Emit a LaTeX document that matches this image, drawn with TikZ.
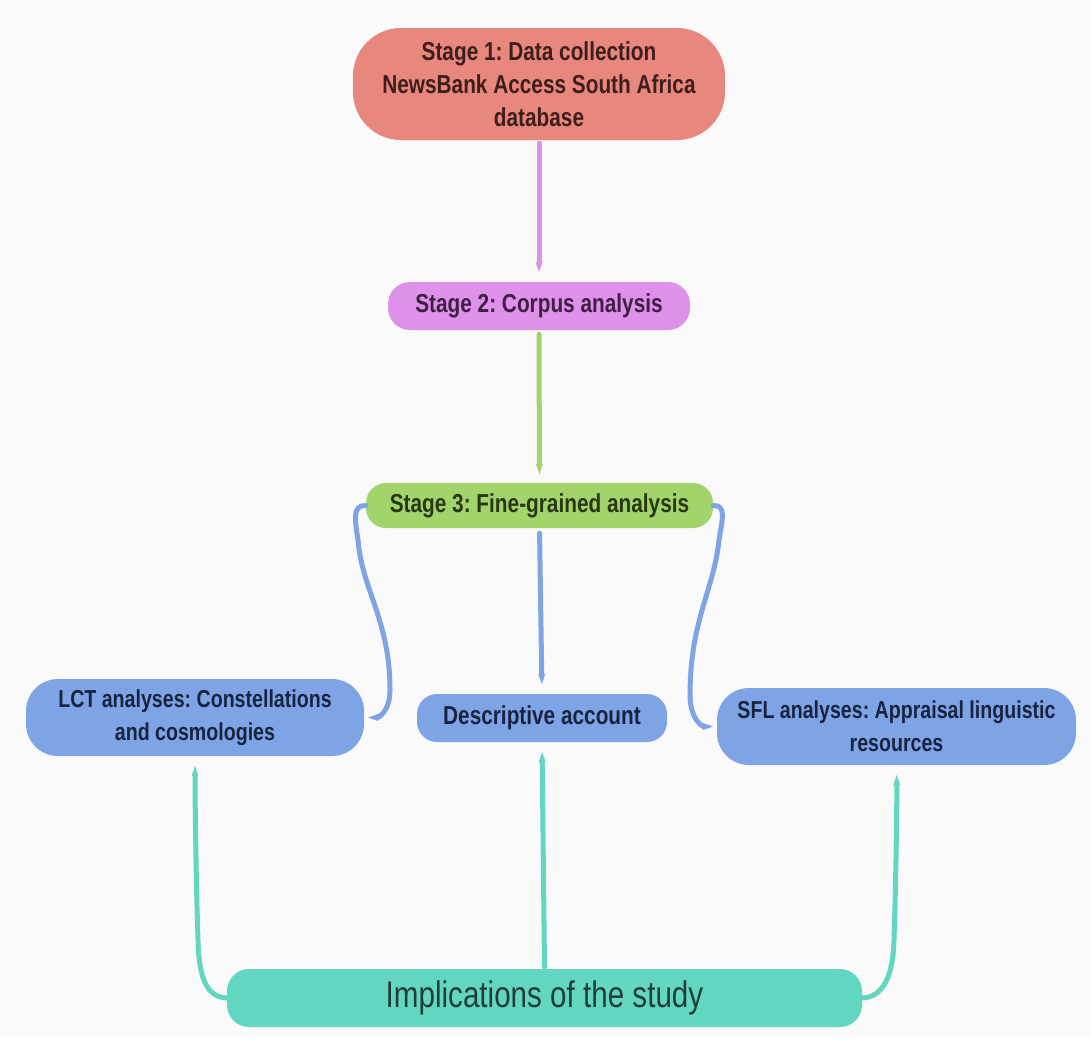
\documentclass[tikz,border=0pt]{standalone}
\usepackage{fontspec}
\setmainfont{Liberation Sans}[FakeStretch=0.8]
\usetikzlibrary{arrows.meta,calc}
\definecolor{bgc}{HTML}{FAFAFA}
\definecolor{salmon}{HTML}{E8877E}
\definecolor{salmontxt}{HTML}{3E1E1B}
\definecolor{orchidc}{HTML}{DE91E8}
\definecolor{orchidtxt}{HTML}{401E46}
\definecolor{greenc}{HTML}{A3D46C}
\definecolor{greentxt}{HTML}{283812}
\definecolor{bluec}{HTML}{7EA4E6}
\definecolor{bluetxt}{HTML}{18243F}
\definecolor{tealc}{HTML}{62D6C1}
\definecolor{tealtxt}{HTML}{1F3E3A}
\begin{document}
\frenchspacing
\begin{tikzpicture}[x=1pt,y=-1pt,
  box/.style={inner sep=0pt, align=center, font=\bfseries\fontsize{26}{33}\selectfont},
  conn/.style={line width=5pt, line cap=round, -{Triangle[width=5.5pt,length=14pt]}},
]
\fill[bgc] (0,0) rectangle (1091,1039);
\useasboundingbox (0,0) rectangle (1091,1039);

% nodes
\node[box, fill=salmon, text=salmontxt, rounded corners=48pt, minimum width=372pt, minimum height=112pt] (s1) at (539,84)
  {Stage 1: Data collection\\NewsBank Access South Africa\\database};
\node[box, fill=orchidc, text=orchidtxt, rounded corners=22pt, minimum width=302pt, minimum height=48pt] (s2) at (539,306)
  {Stage 2: Corpus analysis};
\node[box, fill=greenc, text=greentxt, rounded corners=20pt, minimum width=347pt, minimum height=45pt] (s3) at (539.5,505.5)
  {Stage 3: Fine-grained analysis};
\node[box, fill=bluec, text=bluetxt, rounded corners=32pt, minimum width=338pt, minimum height=77pt,
      font=\bfseries\fontsize{24.5}{33}\selectfont] (lct) at (195,717.5)
  {LCT analyses: Constellations\\and cosmologies};
\node[box, fill=bluec, text=bluetxt, rounded corners=20pt, minimum width=250pt, minimum height=48pt] (desc) at (542,718)
  {Descriptive account};
\node[box, fill=bluec, text=bluetxt, rounded corners=32pt, minimum width=359pt, minimum height=77pt,
      font=\bfseries\fontsize{24.5}{33}\selectfont] (sfl) at (896.5,726.5)
  {SFL analyses: Appraisal linguistic\\resources};
\node[box, fill=tealc, text=tealtxt, rounded corners=22pt, minimum width=635pt, minimum height=58pt,
      font=\fontsize{37}{40}\selectfont] (impl) at (544.5,998)
  {Implications of the study};

% connectors
\draw[conn, orchidc, shorten <=3pt, shorten >=6pt] (s1.south) -- (s2.north);
\draw[conn, greenc, shorten <=4pt, shorten >=5pt] (s2.south) -- (s3.north);
\draw[conn, bluec, shorten <=5pt, shorten >=6pt] (s3.south) -- (desc.north);
\draw[conn, bluec] (s3.west) .. controls (352,505) and (355,520) .. (358,540)
  .. controls (362,590) and (390,620) .. (390,690)
  .. controls (390,712) and (378,717.5) .. (lct.east);
\draw[conn, bluec] (s3.east) .. controls (727,505) and (722,520) .. (719,540)
  .. controls (714,590) and (690,620) .. (690,695)
  .. controls (690,720) and (703,726.5) .. (sfl.west);
\draw[conn, tealc, shorten >=6pt] (impl.west) .. controls (205,997) and (199,975) .. (198,940)
  .. controls (196,880) and (195,800) .. (lct.south);
\draw[conn, tealc, shorten <=2pt, shorten >=6pt] (impl.north) -- (desc.south);
\draw[conn, tealc, shorten >=6pt] (impl.east) .. controls (884,997) and (893,975) .. (894,940)
  .. controls (896,880) and (897,800) .. (sfl.south);
\end{tikzpicture}
\end{document}
